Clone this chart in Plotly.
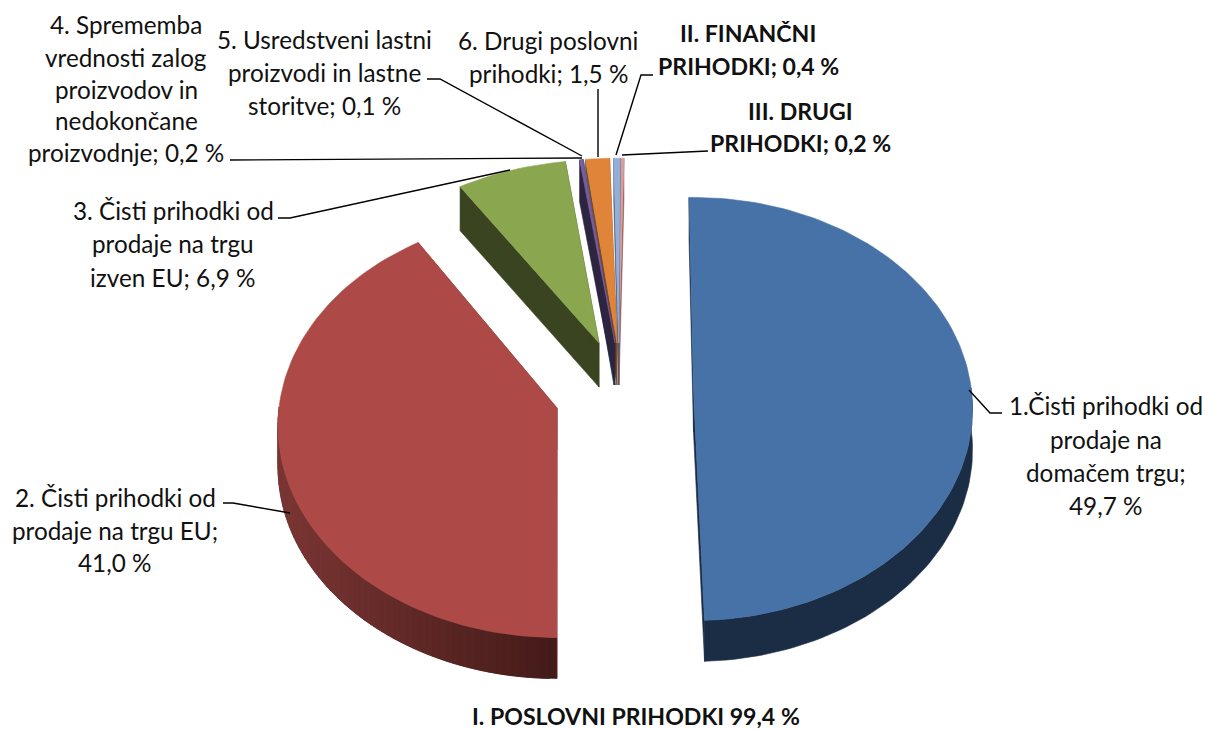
import math
import plotly.graph_objects as go

# ---- data ----
categories = [
    "1.Čisti prihodki od prodaje na domačem trgu",
    "2. Čisti prihodki od prodaje na trgu EU",
    "3. Čisti prihodki od prodaje na trgu izven EU",
    "4. Sprememba vrednosti zalog proizvodov in nedokončane proizvodnje",
    "5. Usredstveni lastni proizvodi in lastne storitve",
    "6. Drugi poslovni prihodki",
    "II. FINANČNI PRIHODKI",
    "III. DRUGI PRIHODKI",
]
values = [49.7, 41.0, 6.9, 0.2, 0.1, 1.5, 0.4, 0.2]
total_label = "I. POSLOVNI PRIHODKI 99,4 %"

label_lines = [
    ["1.Čisti prihodki od", "prodaje na", "domačem trgu;", "49,7 %"],
    ["2. Čisti prihodki od", "prodaje na trgu EU;", "41,0 %"],
    ["3. Čisti prihodki od", "prodaje na trgu", "izven EU; 6,9 %"],
    ["4. Sprememba", "vrednosti zalog", "proizvodov in", "nedokončane", "proizvodnje; 0,2 %"],
    ["5. Usredstveni lastni", "proizvodi in lastne", "storitve; 0,1 %"],
    ["6. Drugi poslovni", "prihodki; 1,5 %"],
    ["II. FINANČNI", "PRIHODKI; 0,4 %"],
    ["III. DRUGI", "PRIHODKI; 0,2 %"],
]

# ---- style and layout of the pie (pixel-like axis space) ----
top_colors = ["#4672a8", "#ad4a47", "#8aa74f", "#7c5c9e", "#3fb0c8", "#e0843a", "#95aed8", "#dc9c9a"]
side_colors = ["#1b2d45", "#7a3634", "#3a4420", "#2d2540", "#1d5a68", "#7a4a1e", "#4a5a78", "#8a5a58"]
side_end_red = "#431a18"
apex_x = [693.5, 557, 599, 615, 614, 617, 618.5, 619]
apex_y = [391, 408, 343, 343, 343, 343, 343, 343]
y_scale = [1, 1, 0.945, 0.955, 0.955, 0.955, 0.955, 0.955]
angle_nudge = [-2.1, 0, 0, -0.4, -0.4, -0.6, 0, 0]
start_angle = 1.1
RX, RY, PERSP = 278, 210, 0.085
depth = [41, 41, 44, 42, 42, 42, 42, 42]
paint_order = [0, 1, 2, 7, 6, 5, 4, 3]
bold = [False, False, False, False, False, False, True, True]
label_x = [1106, 115, 173, 126, 324, 548, 748, 800]
label_y = [
    [405, 439, 472, 505],
    [497, 530, 562],
    [210, 243, 277],
    [24, 57, 89, 120, 152],
    [39, 72, 105],
    [40, 73],
    [33, 66],
    [111, 143],
]
leader_x = [[969, 990, 1002], [223, 233, 290], [278, 290, 510], [230, 582], [427, 440, 582],
            [598, 598], [653, 641, 616], [708, 622]]
leader_y = [[390, 413, 413], [503, 503, 513], [218, 218, 170], [160, 158], [79, 79, 156],
            [89, 157], [75, 75, 155], [151, 155]]
FONT = "Lato"
FONT_SIZE = 24.3
BOLD_SIZE = 23.1
TEXT = "#111111"


def project(i, theta_deg):
    t = math.radians(theta_deg)
    u, v = math.sin(t), math.cos(t)
    w = 1 + PERSP * v
    return apex_x[i] + RX * u / w, apex_y[i] - RY * y_scale[i] * v / w


def mix(c1, c2, t):
    a = [int(c1[k:k + 2], 16) for k in (1, 3, 5)]
    b = [int(c2[k:k + 2], 16) for k in (1, 3, 5)]
    return "#%02x%02x%02x" % tuple(round(a[k] + (b[k] - a[k]) * t) for k in range(3))


fig = go.Figure()


def poly(xs, ys, color, name):
    fig.add_trace(go.Scatter(
        x=xs + xs[:1], y=ys + ys[:1], mode="lines", fill="toself", fillcolor=color,
        line=dict(color=color, width=0.6), hoverinfo="text", text=name, showlegend=False))


angle = start_angle
edges = []
for i, val in enumerate(values):
    sweep = val / sum(values) * 360
    edges.append((angle + angle_nudge[i], angle + angle_nudge[i] + sweep))
    angle += sweep

for i in paint_order:
    a0, a1 = edges[i]
    n = max(4, int((a1 - a0) * 0.7))
    arc = [project(i, a0 + (a1 - a0) * k / n) for k in range(n + 1)]
    ax, ay = apex_x[i], apex_y[i]
    d = depth[i]
    name = f"{categories[i]}: {values[i]:.1f} %"
    # side faces: the two cut planes
    for (px, py) in (arc[0], arc[-1]):
        poly([ax, px, px, ax], [ay, py, py + d, ay + d], side_colors[i], name)
    # outer wall, only where it faces the viewer
    wall = [p for p in arc if p[1] > ay - 5]
    if len(wall) >= 2:
        if i == 1:
            xmin, xmax = min(p[0] for p in arc), max(p[0] for p in arc)
            for k in range(len(wall) - 1):
                # each strip reaches one step further so that no seam shows
                x0, y0 = wall[k]
                x1, y1 = wall[min(k + 2, len(wall) - 1)]
                c = mix(side_colors[1], side_end_red, (wall[k + 1][0] - xmin) / (xmax - xmin))
                poly([x0, x1, x1, x0], [y0, y1, y1 + d, y0 + d], c, name)
        else:
            xs = [p[0] for p in wall]
            ys = [p[1] for p in wall]
            poly(xs + xs[::-1], ys + [y + d for y in ys[::-1]], side_colors[i], name)
    # top face
    poly([ax] + [p[0] for p in arc], [ay] + [p[1] for p in arc], top_colors[i], name)

for lx, ly in zip(leader_x, leader_y):
    fig.add_trace(go.Scatter(x=lx, y=ly, mode="lines", line=dict(color="#000000", width=1.4),
                             hoverinfo="skip", showlegend=False))

ann = []
for i, lines in enumerate(label_lines):
    for line, y in zip(lines, label_y[i]):
        ann.append(dict(x=label_x[i], y=y, text=f"<b>{line}</b>" if bold[i] else line, showarrow=False,
                        xref="x", yref="y", xanchor="center", yanchor="middle",
                        font=dict(family=FONT, size=BOLD_SIZE if bold[i] else FONT_SIZE, color=TEXT)))
ann.append(dict(x=636, y=716, text=f"<b>{total_label}</b>", showarrow=False, xref="x", yref="y",
                xanchor="center", yanchor="middle", font=dict(family=FONT, size=BOLD_SIZE, color=TEXT)))

fig.update_layout(
    width=1205, height=729, margin=dict(l=0, r=0, t=0, b=0),
    paper_bgcolor="#ffffff", plot_bgcolor="#ffffff", showlegend=False, annotations=ann,
    xaxis=dict(range=[0, 1205], visible=False, fixedrange=True),
    yaxis=dict(range=[729, 0], visible=False, fixedrange=True),
)
fig.write_html("out.html", config={"displayModeBar": False},
               post_script="document.body.style.margin='0';document.documentElement.style.overflow='hidden';")
